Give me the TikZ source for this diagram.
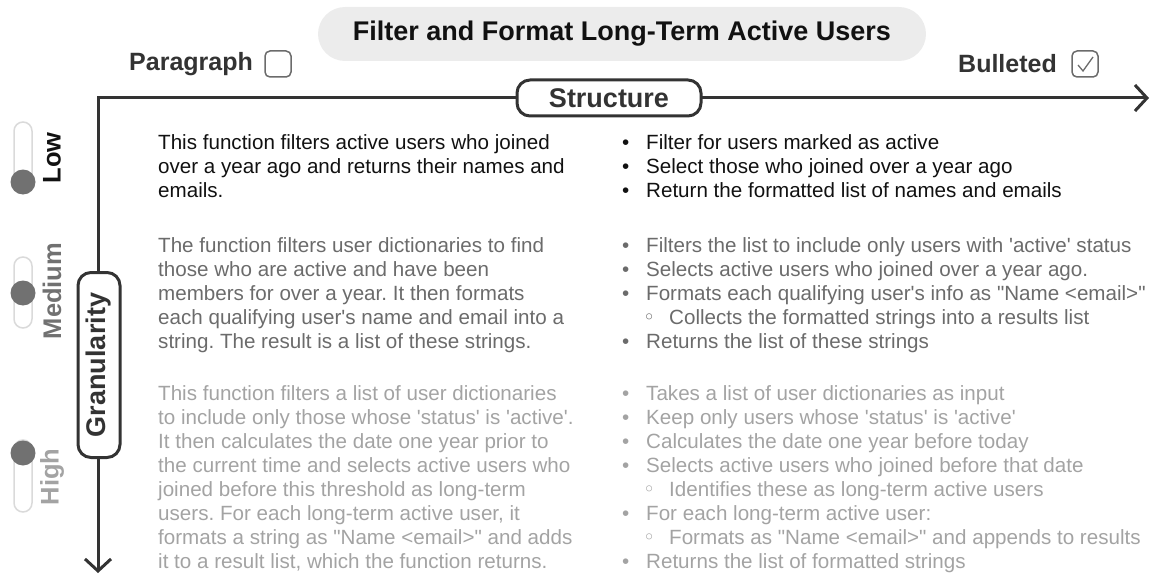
\documentclass[tikz,border=0pt]{standalone}
\usepackage{fontspec}
\usetikzlibrary{arrows.meta}
\newfontfamily\uifont{Liberation Sans}
\newfontfamily\symfont{DejaVu Sans}
\definecolor{ink}{HTML}{111111}
\definecolor{midgray}{HTML}{6B6B6B}
\definecolor{lightgray}{HTML}{A3A3A3}
\definecolor{axisgray}{HTML}{333333}
\definecolor{pillgray}{HTML}{ECECEC}
\definecolor{trackgray}{HTML}{DADADA}
\definecolor{knobgray}{HTML}{717171}
\frenchspacing
\newcommand{\bodyfont}{\uifont\fontsize{20.6}{24}\selectfont}
\newcommand{\bul}{\makebox[24pt][l]{\textbullet}}
\newcommand{\subbul}{\hspace*{21pt}\makebox[26pt][l]{{\symfont ◦}}}
\tikzset{
  axis/.style={line width=3pt, draw=axisgray, line join=miter},
  axisbarb/.tip={Straight Barb[length=12pt, width=26pt]},
  axislabel/.style={draw=axisgray, line width=3pt, fill=white, rounded corners=13pt,
    font=\uifont\bfseries\fontsize{27}{27}\selectfont, text=axisgray, inner sep=0pt},
  block/.style={anchor=north west, inner sep=0pt, align=left, font=\bodyfont,
    execute at begin node={\rule{0pt}{17pt}}},
  track/.style={draw=trackgray, line width=1.5pt, fill=white, rounded corners=9pt},
  knob/.style={fill=knobgray, draw=none},
  level/.style={rotate=90, font=\uifont\bfseries\fontsize{25.5}{25.5}\selectfont},
  tickbox/.style={draw=midgray, line width=1.5pt, rounded corners=5pt, minimum size=26pt, inner sep=0pt},
  header/.style={font=\uifont\bfseries\fontsize{25}{25}\selectfont, text=axisgray, inner sep=0pt}
}
\begin{document}
\begin{tikzpicture}[x=1pt, y=-1pt]
  \useasboundingbox (0,0) rectangle (1151,575);
  % title
  \node[fill=pillgray, rounded corners=27pt, minimum width=608pt, minimum height=54pt,
    font=\uifont\bfseries\fontsize{27}{27}\selectfont, text=ink] (title) at (622,34)
    {Filter and Format Long-Term Active Users};
  % structure ends
  \node[header, anchor=west] (para) at (129,64) {Paragraph};
  \node[tickbox] (parabox) at (278,64) {};
  \node[header, anchor=west] (bull) at (958,64) {Bulleted};
  \node[tickbox] (bullbox) at (1085,64) {};
  \draw[line width=1.3pt, draw=midgray] ([xshift=-7pt,yshift=-1pt]bullbox.center)
    -- ([xshift=-2pt,yshift=-7pt]bullbox.center) -- ([xshift=8pt,yshift=7pt]bullbox.center);
  % axes
  \coordinate (origin) at (98,98);
  \coordinate (xend) at (1149,98);
  \coordinate (yend) at (98,573);
  \draw[axis, axisbarb-axisbarb] (xend) -- (origin) -- (yend);
  \node[axislabel, minimum width=184pt, minimum height=36pt] (structure) at (609,98) {Structure};
  \node[axislabel, rotate=90, minimum width=185pt, minimum height=42pt] (granularity) at (99,365) {Granularity};
  % sliders
  \draw[track] (14,122) rectangle (32,193);
  \node[knob, circle, minimum size=25pt, inner sep=0pt] (lowknob) at (23,182) {};
  \node[level, text=ink] (low) at (52,158) {Low};
  \draw[track] (14,257) rectangle (32,328);
  \node[knob, circle, minimum size=25pt, inner sep=0pt] (medknob) at (23,293) {};
  \node[level, text=knobgray] (medium) at (52,291) {Medium};
  \draw[track] (14,440) rectangle (32,512);
  \node[knob, circle, minimum size=25pt, inner sep=0pt] (highknob) at (23,453) {};
  \node[level, text=lightgray] (high) at (52,477) {High};
  % paragraph column
  \node[block, text=ink] (p1) at (158,134)
    {This function filters active users who joined\\
     over a year ago and returns their names and\\
     emails.};
  \node[block, text=midgray] (p2) at (158,237)
    {The function filters user dictionaries to find\\
     those who are active and have been\\
     members for over a year. It then formats\\
     each qualifying user's name and email into a\\
     string. The result is a list of these strings.};
  \node[block, text=lightgray] (p3) at (158,385)
    {This function filters a list of user dictionaries\\
     to include only those whose 'status' is 'active'.\\
     It then calculates the date one year prior to\\
     the current time and selects active users who\\
     joined before this threshold as long-term\\
     users. For each long-term active user, it\\
     formats a string as "Name <email>" and adds\\
     it to a result list, which the function returns.};
  % bulleted column
  \node[block, text=ink] (b1) at (622,134)
    {\bul Filter for users marked as active\\
     \bul Select those who joined over a year ago\\
     \bul Return the formatted list of names and emails};
  \node[block, text=midgray] (b2) at (622,237)
    {\bul Filters the list to include only users with 'active' status\\
     \bul Selects active users who joined over a year ago.\\
     \bul Formats each qualifying user's info as "Name <email>"\\
     \subbul Collects the formatted strings into a results list\\
     \bul Returns the list of these strings};
  \node[block, text=lightgray] (b3) at (622,385)
    {\bul Takes a list of user dictionaries as input\\
     \bul Keep only users whose 'status' is 'active'\\
     \bul Calculates the date one year before today\\
     \bul Selects active users who joined before that date\\
     \subbul Identifies these as long-term active users\\
     \bul For each long-term active user:\\
     \subbul Formats as "Name <email>" and appends to results\\
     \bul Returns the list of formatted strings};
\end{tikzpicture}
\end{document}
